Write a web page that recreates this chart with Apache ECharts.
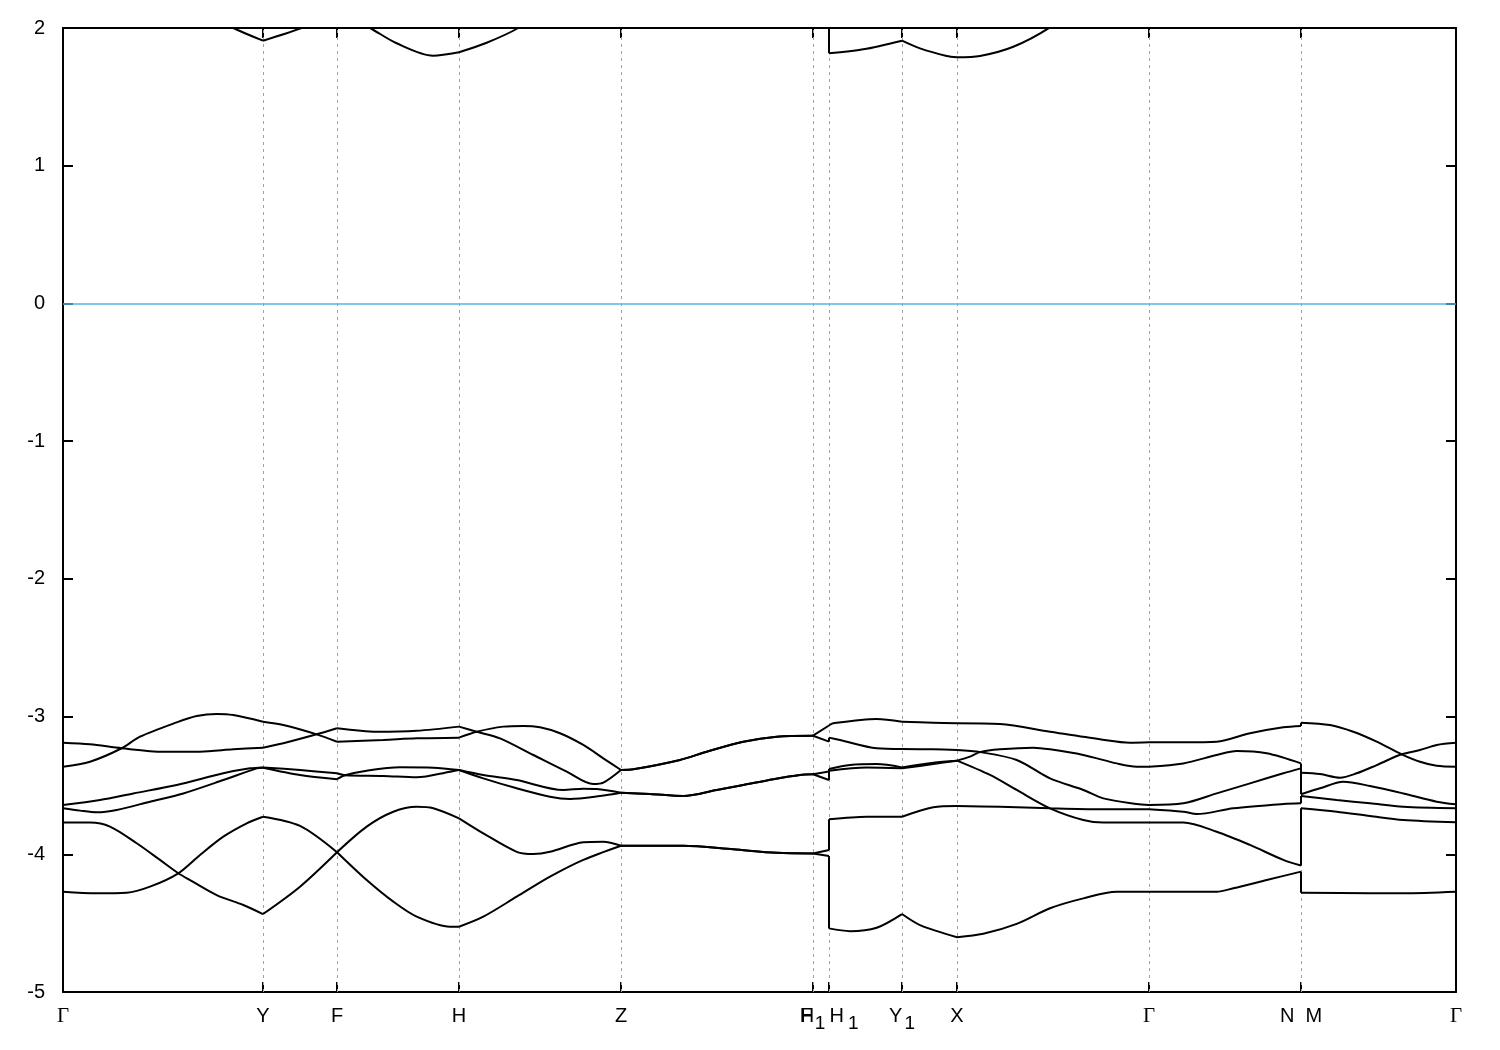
<!DOCTYPE html>
<html>
<head>
<meta charset="utf-8">
<script src="https://cdn.jsdelivr.net/npm/echarts@6/dist/echarts.min.js"></script>
<style>
html,body{margin:0;padding:0;background:#fff;}
#chart{width:1500px;height:1050px;}
</style>
</head>
<body>
<div id="chart"></div>
<script>
// high-symmetry points along the path (k, arbitrary path units)
const kTicks = [0, 200, 274, 396, 558, 750, 766, 839, 894, 1086, 1238, 1393];
const kLabels = ['Γ', 'Y', 'F', 'H', 'Z', 'F_1', 'H_1', 'Y_1', 'X', 'Γ', 'N  M', 'Γ'];
const yTicksMin = -5, yTicksMax = 2, yStep = 1;
const fermiLevel = 0;

// bands sorted by energy: [k, E(eV)]
const band1 = [
  [0,-4.272],[33.7,-4.283],[63.7,-4.279],[87,-4.235],[115.3,-4.138],[127,-4.187],[153.7,-4.296],[180.3,-4.368],[200,-4.434],
  [237,-4.235],[274,-3.985],
  [303.7,-4.187],[330.3,-4.344],[353.7,-4.453],[387,-4.526],[396,-4.526],
  [420.3,-4.453],[453.7,-4.308],[487,-4.163],[520.3,-4.041],[558,-3.938],
  [620.3,-3.938],[670.3,-3.964],[713.7,-3.989],[750,-3.994],
  [766,-4.012],[766,-4.538],
  [787,-4.558],[813.7,-4.533],[839,-4.434],[857,-4.514],[894,-4.602],
  [920.3,-4.577],[953.7,-4.505],[987,-4.392],[1020.3,-4.320],[1053.7,-4.272],[1086,-4.272],[1153.7,-4.272],[1170.3,-4.247],[1203.7,-4.187],[1238,-4.126],
  [1238,-4.279],[1307,-4.283],[1340.3,-4.283],[1393,-4.272]
];
const band2 = [
  [0,-3.770],[27,-3.770],[47,-3.799],[73.7,-3.920],[97,-4.041],[115.3,-4.138],[137,-4.005],[160.3,-3.872],[183.7,-3.775],[200,-3.727],
  [237,-3.794],[274,-3.985],
  [303.7,-3.799],[330.3,-3.691],[353.7,-3.655],[370.3,-3.666],[396,-3.739],
  [420.3,-3.848],[453.7,-3.982],[470.3,-3.998],[487,-3.982],[520.3,-3.913],[540.3,-3.909],[558,-3.938],
  [620.3,-3.938],[670.3,-3.964],[713.7,-3.989],[750,-3.994],
  [766,-3.969],[766,-3.746],
  [803.7,-3.727],[839,-3.727],[870.3,-3.659],[894,-3.649],
  [937,-3.655],[987,-3.666],[1020.3,-3.751],[1040.3,-3.770],[1086,-3.770],[1120.3,-3.770],[1153.7,-3.836],[1187,-3.932],[1220.3,-4.041],[1238,-4.082],
  [1238,-3.666],[1273.7,-3.691],[1307,-3.722],[1340.3,-3.751],[1393,-3.768]
];
const band3 = [
  [0,-3.666],[17,-3.683],[33.7,-3.695],[53.7,-3.678],[87,-3.618],[120.3,-3.558],[160.3,-3.461],[193.7,-3.376],[200,-3.371],
  [237,-3.424],[274,-3.455],
  [282,-3.426],[320.3,-3.431],[353.7,-3.441],[387,-3.400],[396,-3.388],
  [420.3,-3.449],[453.7,-3.521],[487,-3.582],[507,-3.598],[537,-3.577],[558,-3.553],
  [587,-3.562],[620.3,-3.577],[653.7,-3.533],[680.3,-3.497],[710.3,-3.455],[737,-3.424],[750,-3.419],
  [766,-3.461],[766,-3.393],
  [803.7,-3.369],[839,-3.376],[870.3,-3.345],[894,-3.320],
  [927,-3.424],[953.7,-3.533],[987,-3.666],[1037,-3.673],[1086,-3.673],[1120.3,-3.691],[1133.7,-3.708],[1170.3,-3.666],[1220.3,-3.635],[1238,-3.630],
  [1238,-3.577],[1273.7,-3.606],[1307,-3.630],[1340.3,-3.655],[1393,-3.666]
];
const band4 = [
  [0,-3.642],[37,-3.606],[70.3,-3.558],[113.7,-3.497],[160.3,-3.412],[187,-3.376],[200,-3.369],
  [237,-3.388],[274,-3.412],[282,-3.426],
  [303.7,-3.393],[337,-3.368],[370.3,-3.371],[396,-3.388],
  [420.3,-3.424],[453.7,-3.461],[500.3,-3.533],[520.3,-3.524],[533.7,-3.526],[558,-3.553],
  [587,-3.562],[620.3,-3.577],[653.7,-3.533],[680.3,-3.497],[710.3,-3.455],[737,-3.424],[750,-3.419],
  [766,-3.399],[766,-3.381],
  [787,-3.352],[813.7,-3.345],[839,-3.369],[870.3,-3.335],[894,-3.320],
  [907,-3.291],[917,-3.258],[953.7,-3.315],[987,-3.449],[1020.3,-3.533],[1040.3,-3.594],[1073.7,-3.635],[1086,-3.642],[1120.3,-3.630],[1153.7,-3.558],[1187,-3.485],[1220.3,-3.412],[1238,-3.376],
  [1238,-3.564],[1257,-3.521],[1280.3,-3.473],[1307,-3.504],[1340.3,-3.558],[1373.7,-3.618],[1393,-3.637]
];
const band5 = [
  [0,-3.364],[27,-3.328],[58.7,-3.230],[100.3,-3.255],[137,-3.255],[170.3,-3.238],[200,-3.226],
  [220.3,-3.194],[253.7,-3.129],[274,-3.183],
  [320.3,-3.170],[353.7,-3.158],[396,-3.153],
  [413.7,-3.110],[437,-3.158],[470.3,-3.279],[503.7,-3.400],[530.3,-3.490],[540.3,-3.480],[558,-3.388],
  [570.3,-3.383],[617,-3.315],[643.7,-3.255],[680.3,-3.183],[713.7,-3.146],[750,-3.139],
  [766,-3.182],[766,-3.153],
  [777,-3.170],[813.7,-3.230],[839,-3.235],[870.3,-3.238],[894,-3.243],
  [917,-3.258],[937,-3.238],[970.3,-3.226],[987,-3.238],[1020.3,-3.279],[1053.7,-3.340],[1073.7,-3.364],[1086,-3.364],[1120.3,-3.340],[1153.7,-3.279],[1173.7,-3.250],[1203.7,-3.267],[1238,-3.340],
  [1238,-3.408],[1257,-3.417],[1277,-3.444],[1293.7,-3.412],[1313.7,-3.352],[1338.7,-3.274],[1357,-3.328],[1373.7,-3.357],[1393,-3.364]
];
const band6 = [
  [0,-3.190],[27,-3.201],[58.7,-3.230],[77,-3.146],[113.7,-3.042],[133.7,-2.996],[153.7,-2.981],[170.3,-2.989],[200,-3.037],
  [220.3,-3.061],[253.7,-3.129],[274,-3.085],
  [313.7,-3.110],[353.7,-3.103],[396,-3.073],
  [413.7,-3.110],[440.3,-3.073],[460.3,-3.068],[477,-3.078],[497,-3.121],[520.3,-3.206],[540.3,-3.303],[558,-3.388],
  [570.3,-3.383],[617,-3.315],[643.7,-3.255],[680.3,-3.183],[713.7,-3.146],[750,-3.139],
  [766,-3.065],
  [770.3,-3.049],[813.7,-3.017],[839,-3.037],[870.3,-3.044],[894,-3.049],
  [937,-3.054],[987,-3.110],[1037,-3.165],[1067,-3.190],[1086,-3.187],[1120.3,-3.187],[1153.7,-3.182],[1187,-3.121],[1220.3,-3.078],[1238,-3.068],
  [1238,-3.044],[1267,-3.061],[1290.3,-3.110],[1313.7,-3.182],[1338.7,-3.274],[1357,-3.243],[1373.7,-3.206],[1393,-3.190]
];
const band7 = [
  [0,2.6],[140,2.12],[170.3,2.0],[200,1.908],[240.3,2.005],[274,2.12],[307,2.0],[333.7,1.889],[370,1.799],[396,1.824],[423.7,1.893],[455.3,2.0],
  [558,2.45],[750,2.3],[766,2.2],[766,1.816],
  [800.3,1.845],[839,1.908],[857,1.852],[883.7,1.797],[894,1.787],[917,1.797],[950.3,1.864],[987,2.005],
  [1086,2.5],[1238,2.3],[1393,2.6]
];
// band crossings: [k, lower band, upper band] (1-based band numbers)
const crossings = [
  [58.7, 5, 6], [115.3, 1, 2], [253.7, 5, 6], [274, 1, 2], [282, 3, 4],
  [413.7, 5, 6], [917, 4, 5], [987, 2, 3], [1338.7, 5, 6]
];

const bands = [band1, band2, band3, band4, band5, band6, band7];

// ---- rebuild continuous lines through the crossings ----
const nB = bands.length;
const map = bands.map((_, i) => i);
const assign = bands.map((_, i) => [[-Infinity, i]]);
crossings.slice().sort((a, b) => a[0] - b[0]).forEach(c => {
  const a = c[1] - 1, b = c[2] - 1;
  const t = map[a]; map[a] = map[b]; map[b] = t;
  assign[a].push([c[0], map[a]]);
  assign[b].push([c[0], map[b]]);
});
const lines = bands.map(() => []);
bands.forEach((pts, bi) => {
  const as = assign[bi];
  pts.forEach((p, pi) => {
    for (let j = 0; j < as.length; j++) {
      const from = as[j][0], to = j + 1 < as.length ? as[j + 1][0] : Infinity;
      if (p[0] >= from && p[0] <= to) lines[as[j][1]].push([p[0], p[1], bi, pi]);
    }
  });
});
lines.forEach(l => l.sort((a, b) => a[0] - b[0] || (a[2] === b[2] ? a[3] - b[3] : 0)));
const cleanLines = lines.map(l => {
  const out = [];
  l.forEach(p => {
    const last = out[out.length - 1];
    if (!last || last[0] !== p[0] || last[1] !== p[1]) out.push([p[0], p[1]]);
  });
  return out;
});

// split each line at the high-symmetry points so kinks stay sharp
const innerTicks = kTicks.slice(1, kTicks.length - 1);
function splitAtTicks(pts) {
  const pieces = [];
  let cur = [];
  let i = 0;
  while (i < pts.length) {
    const k = pts[i][0];
    if (innerTicks.indexOf(k) >= 0) {
      let j = i;
      while (j < pts.length && pts[j][0] === k) j++;
      const run = pts.slice(i, j);
      cur.push(run[0]);
      if (cur.length > 1) pieces.push(cur);
      if (run.length > 1) pieces.push(run);
      cur = [run[run.length - 1]];
      i = j;
    } else {
      cur.push(pts[i]);
      i++;
    }
  }
  if (cur.length > 1) pieces.push(cur);
  return pieces;
}

const labelFor = {};
kTicks.forEach((k, i) => { labelFor[k] = kLabels[i]; });

function fmtLabel(v) {
  const l = labelFor[v];
  if (l === undefined) return '';
  if (l === 'Γ') return '{g|Γ}';
  if (l === 'H_1') return '{hp|H}{s2|1}';
  if (l.indexOf('_') >= 0) {
    const p = l.split('_');
    return '{t|' + p[0] + '}{s|' + p[1] + '}';
  }
  return '{t|' + l + '}';
}

const sansFont = 'Liberation Sans, Arial, sans-serif';
const rich = {
  t: { fontFamily: sansFont, fontSize: 20, color: '#000', verticalAlign: 'bottom', padding: [0, 0, 7, 0] },
  hp: { fontFamily: sansFont, fontSize: 20, color: '#000', verticalAlign: 'bottom', padding: [0, 0, 7, 30] },
  g: { fontFamily: 'Liberation Serif, serif', fontSize: 21, color: '#000', verticalAlign: 'bottom', padding: [0, 0, 7, 0] },
  s: { fontFamily: sansFont, fontSize: 19, color: '#000', verticalAlign: 'bottom', padding: [0, 0, 0, 2] },
  s2: { fontFamily: sansFont, fontSize: 19, color: '#000', verticalAlign: 'bottom', padding: [0, 0, 0, 4] }
};

const vLines = innerTicks.map(k => ({ xAxis: k }));

const series = [];
cleanLines.forEach(l => {
  splitAtTicks(l).forEach(piece => {
    series.push({
      type: 'line',
      data: piece,
      xAxisIndex: 0,
      yAxisIndex: 0,
      showSymbol: false,
      symbol: 'none',
      smooth: piece.length > 2 ? 0.3 : false,
      clip: true,
      lineStyle: { color: '#000', width: 2 },
      z: 5,
      silent: true
    });
  });
});
series.push({
  type: 'line',
  data: [],
  xAxisIndex: 0,
  yAxisIndex: 0,
  silent: true,
  z: 2,
  markLine: {
    silent: true,
    symbol: ['none', 'none'],
    animation: false,
    label: { show: false },
    data: vLines,
    lineStyle: { color: '#a0a0a0', type: [3, 4], width: 1 }
  }
});
series.push({
  type: 'line',
  data: [],
  xAxisIndex: 0,
  yAxisIndex: 0,
  silent: true,
  z: 3,
  markLine: {
    silent: true,
    symbol: ['none', 'none'],
    animation: false,
    label: { show: false },
    data: [{ yAxis: fermiLevel }],
    lineStyle: { color: '#56b4e9', type: 'solid', width: 1.5 }
  }
});

const frameLine = { show: true, onZero: false, lineStyle: { color: '#000', width: 2 } };
const inTick = { show: true, inside: true, length: 10, lineStyle: { color: '#000', width: 2 } };

const chart = echarts.init(document.getElementById('chart'), null, { renderer: 'canvas' });
chart.setOption({
  animation: false,
  backgroundColor: '#fff',
  grid: { left: 63, right: 44, top: 28, bottom: 58, containLabel: false },
  xAxis: [
    {
      type: 'value', min: kTicks[0], max: kTicks[kTicks.length - 1], position: 'bottom',
      axisLine: frameLine,
      axisTick: Object.assign({ customValues: kTicks }, inTick),
      axisLabel: { show: true, customValues: kTicks, margin: 14, formatter: fmtLabel, rich: rich, hideOverlap: false },
      splitLine: { show: false }
    },
    {
      type: 'value', min: kTicks[0], max: kTicks[kTicks.length - 1], position: 'top',
      axisLine: frameLine,
      axisTick: Object.assign({ customValues: kTicks }, inTick),
      axisLabel: { show: false },
      splitLine: { show: false }
    },
    {
      type: 'value', min: kTicks[0], max: kTicks[kTicks.length - 1], position: 'bottom', offset: 0,
      axisLine: { show: false, onZero: false },
      axisTick: { show: false },
      axisLabel: { show: true, customValues: [kTicks[5]], margin: 14, formatter: () => '{ov|H}',
        rich: { ov: { fontFamily: sansFont, fontSize: 20, color: '#000', verticalAlign: 'bottom', padding: [0, 12, 7, 0] } } },
      splitLine: { show: false }
    }
  ],
  yAxis: [
    {
      type: 'value', min: yTicksMin, max: yTicksMax, interval: yStep, position: 'left',
      axisLine: frameLine,
      axisTick: inTick,
      axisLabel: { show: true, margin: 18, fontFamily: sansFont, fontSize: 20, color: '#000' },
      splitLine: { show: false }
    },
    {
      type: 'value', min: yTicksMin, max: yTicksMax, interval: yStep, position: 'right',
      axisLine: frameLine,
      axisTick: inTick,
      axisLabel: { show: false },
      splitLine: { show: false }
    }
  ],
  series: series
});
</script>
</body>
</html>
